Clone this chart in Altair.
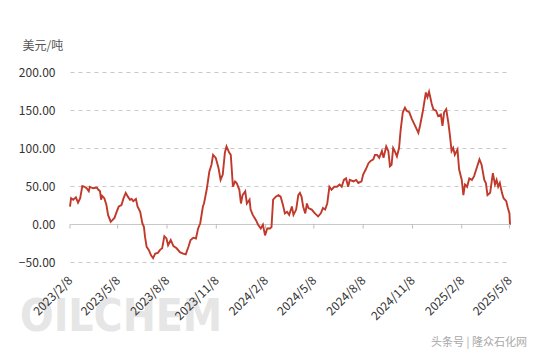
import altair as alt
import pandas as pd

dates = [
    "2023-02-08", "2023-02-10", "2023-02-14", "2023-02-19", "2023-02-23", "2023-02-27",
    "2023-03-03", "2023-03-07", "2023-03-11", "2023-03-15", "2023-03-17", "2023-03-23",
    "2023-03-30", "2023-04-02", "2023-04-05", "2023-04-07", "2023-04-09", "2023-04-13",
    "2023-04-17", "2023-04-20", "2023-04-25", "2023-04-28", "2023-05-02", "2023-05-06",
    "2023-05-10", "2023-05-15", "2023-05-19", "2023-05-23", "2023-05-27", "2023-05-31",
    "2023-06-03", "2023-06-06", "2023-06-11", "2023-06-14", "2023-06-19", "2023-06-23",
    "2023-06-26", "2023-06-28", "2023-07-01", "2023-07-05", "2023-07-09", "2023-07-13",
    "2023-07-17", "2023-07-22", "2023-07-26", "2023-07-30", "2023-08-03", "2023-08-07",
    "2023-08-10", "2023-08-15", "2023-08-20", "2023-08-26", "2023-09-01", "2023-09-07",
    "2023-09-12", "2023-09-17", "2023-09-21", "2023-09-26", "2023-10-01", "2023-10-05",
    "2023-10-09", "2023-10-14", "2023-10-16", "2023-10-21", "2023-10-26", "2023-10-30",
    "2023-11-02", "2023-11-07", "2023-11-12", "2023-11-16", "2023-11-20", "2023-11-24",
    "2023-11-27", "2023-12-02", "2023-12-05", "2023-12-09", "2023-12-13", "2023-12-16",
    "2023-12-21", "2023-12-24", "2023-12-27", "2024-01-01", "2024-01-04", "2024-01-09",
    "2024-01-11", "2024-01-15", "2024-01-21", "2024-01-25", "2024-01-30", "2024-02-03",
    "2024-02-07", "2024-02-11", "2024-02-16", "2024-02-19", "2024-02-22", "2024-02-27",
    "2024-03-03", "2024-03-07", "2024-03-11", "2024-03-15", "2024-03-19", "2024-03-23",
    "2024-03-28", "2024-03-31", "2024-04-05", "2024-04-09", "2024-04-12", "2024-04-15",
    "2024-04-18", "2024-04-22", "2024-04-25", "2024-04-28", "2024-05-04", "2024-05-10",
    "2024-05-16", "2024-05-21", "2024-05-25", "2024-05-29", "2024-06-02", "2024-06-06",
    "2024-06-10", "2024-06-15", "2024-06-20", "2024-06-25", "2024-06-29", "2024-07-03",
    "2024-07-07", "2024-07-11", "2024-07-14", "2024-07-21", "2024-07-26", "2024-07-30",
    "2024-08-05", "2024-08-08", "2024-08-13", "2024-08-18", "2024-08-22", "2024-08-27",
    "2024-08-30", "2024-09-03", "2024-09-07", "2024-09-12", "2024-09-15", "2024-09-20",
    "2024-09-24", "2024-09-27", "2024-09-30", "2024-10-03", "2024-10-06", "2024-10-10",
    "2024-10-14", "2024-10-17", "2024-10-21", "2024-10-25", "2024-10-28", "2024-11-02",
    "2024-11-07", "2024-11-13", "2024-11-19", "2024-11-22", "2024-11-27", "2024-11-30",
    "2024-12-03", "2024-12-06", "2024-12-09", "2024-12-14", "2024-12-17", "2024-12-22",
    "2024-12-26", "2024-12-31", "2025-01-03", "2025-01-06", "2025-01-10", "2025-01-14",
    "2025-01-17", "2025-01-20", "2025-01-23", "2025-01-26", "2025-01-31", "2025-02-03",
    "2025-02-08", "2025-02-11", "2025-02-14", "2025-02-18", "2025-02-22", "2025-02-27",
    "2025-03-03", "2025-03-08", "2025-03-13", "2025-03-17", "2025-03-22", "2025-03-25",
    "2025-03-28", "2025-04-02", "2025-04-07", "2025-04-11", "2025-04-14", "2025-04-17",
    "2025-04-20", "2025-04-24", "2025-04-27", "2025-05-02", "2025-05-05", "2025-05-08",
    "2025-05-09",
]

values = [
    23, 34, 32, 35, 28, 34,
    50, 49, 47, 43, 49, 47,
    48, 45, 43, 32, 37, 34,
    25, 12, 3, 5, 8, 16,
    23, 25, 34, 41, 36, 32,
    33, 30, 33, 23, 16, 1,
    -4, -17, -30, -34, -41, -45,
    -39, -38, -34, -32, -16, -19,
    -28, -21, -29, -32, -37, -39,
    -40, -30, -21, -18, -19, -6,
    1, 23, 27, 45, 69, 78,
    91, 87, 74, 58, 65, 94,
    102, 94, 91, 49, 56, 54,
    45, 27, 38, 43, 27, 32,
    19, 12, 5, -1, -6, -1,
    -15, -6, -6, -4, 32, 36,
    38, 36, 26, 14, 16, 12,
    23, 12, 19, 38, 41, 36,
    23, 14, 27, 21, 19, 14,
    10, 14, 21, 19, 27, 49,
    45, 49, 49, 52, 49, 58,
    60, 49, 58, 56, 58, 54,
    56, 65, 72, 80, 83, 85,
    91, 91, 87, 96, 87, 102,
    96, 76, 78, 100, 96, 89,
    100, 124, 147, 153, 149, 147,
    138, 129, 120, 129, 147, 160,
    173, 167, 174, 158, 151, 149,
    142, 144, 129, 147, 151, 133,
    116, 96, 100, 91, 98, 72,
    58, 38, 52, 49, 60, 58,
    63, 74, 85, 78, 58, 54,
    38, 41, 67, 52, 58, 49,
    54, 41, 34, 30, 21, 14,
    -1,
]

tick_dates = [
    (2023, 2, 8), (2023, 5, 8), (2023, 8, 8), (2023, 11, 8), (2024, 2, 8),
    (2024, 5, 8), (2024, 8, 8), (2024, 11, 8), (2025, 2, 8), (2025, 5, 8),
]
y_ticks = [-50, 0, 50, 100, 150, 200]

FONT = "Noto Sans CJK SC"

df = pd.DataFrame({"date": dates, "value": values})
ticks_df = pd.DataFrame({"date": [f"{y:04d}-{m:02d}-{d:02d}" for y, m, d in tick_dates]})
tick_vals = [alt.DateTime(year=y, month=m, date=d, utc=True) for y, m, d in tick_dates]

x_scale = alt.Scale(
    type="utc",
    domain=[alt.DateTime(year=2023, month=2, date=8, utc=True),
            alt.DateTime(year=2025, month=5, date=9, utc=True)],
)
y_scale = alt.Scale(domain=[-50, 200], nice=False, zero=False)

x_axis = alt.Axis(
    values=tick_vals,
    format="%Y/%-m/%-d",
    labelAngle=-45,
    labelAlign="right",
    labelBaseline="middle",
    labelPadding=16,
    labelFontSize=12,
    labelColor="#333333",
    labelFont=FONT,
    domain=False,
    ticks=False,
    grid=False,
    title=None,
    labelOverlap=False,
    zindex=1,
)

y_axis = alt.Axis(
    values=y_ticks,
    format=".2f",
    labelFontSize=12,
    labelColor="#333333",
    labelFont=FONT,
    labelPadding=15,
    labelOverlap=False,
    domain=False,
    ticks=False,
    grid=True,
    gridDash=alt.condition("datum.value == 0", alt.value([]), alt.value([4, 4])),
    gridColor="#c8c8c8",
    gridWidth=1,
    title="美元/吨",
    titleAngle=0,
    titleAlign="left",
    titleBaseline="middle",
    titleX=-48,
    titleY=-27,
    titleFont=FONT,
    titleFontSize=12,
    titleFontWeight="normal",
    titleColor="#555555",
)

line = alt.Chart(df).mark_line(color="#c0392b", strokeWidth=1.9).encode(
    x=alt.X("date:T", scale=x_scale, axis=x_axis),
    y=alt.Y("value:Q", scale=y_scale, axis=y_axis),
)

tick_marks = alt.Chart(ticks_df).mark_rule(color="#bdbdbd", strokeWidth=1).encode(
    x=alt.X("date:T", scale=x_scale, axis=x_axis),
    y=alt.YDatum(0, scale=y_scale, axis=y_axis),
    y2=alt.datum(-6),
)

watermark1 = alt.Chart(pd.DataFrame({"t": ["OILCHEM"]})).mark_text(
    font="DejaVu Sans Condensed, Liberation Sans, sans-serif",
    fontSize=44,
    fontWeight="bold",
    color="#e6e6e6",
    align="left",
    baseline="alphabetic",
).encode(text="t:N", x=alt.value(-50), y=alt.value(259))

watermark2 = alt.Chart(pd.DataFrame({"t": ["头条号 | 隆众石化网"]})).mark_text(
    font=FONT,
    fontSize=11,
    color="#a8a8a8",
    align="right",
    baseline="alphabetic",
).encode(text="t:N", x=alt.value(457), y=alt.value(274))

chart = alt.layer(watermark1, line, tick_marks, watermark2).properties(
    width=440,
    height=190,
    background="white",
    autosize=alt.AutoSizeParams(type="none"),
    padding={"left": 62, "top": 64, "right": 21, "bottom": 88},
).configure_view(stroke=None)

chart.save("out.html", embed_options={"renderer": "svg", "actions": False})
